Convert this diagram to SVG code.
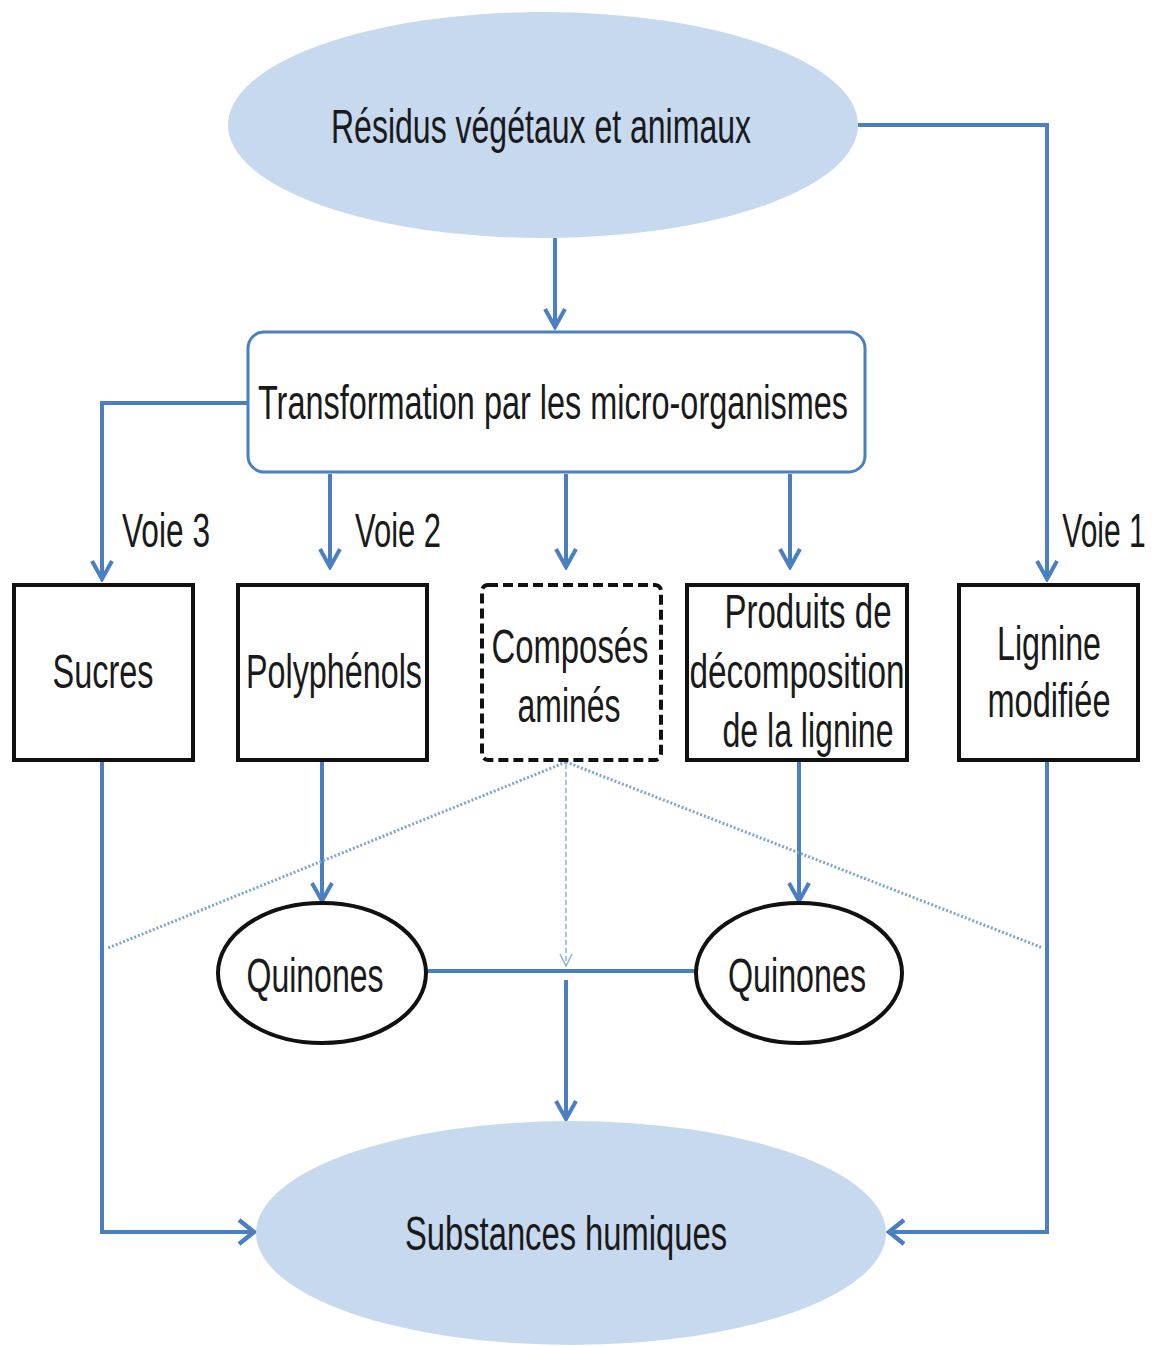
<svg xmlns="http://www.w3.org/2000/svg" width="1157" height="1347" viewBox="0 0 1157 1347">
<style>
.t{font-family:"Liberation Sans Narrow","Liberation Sans",Arial,sans-serif;font-size:48px;fill:#1a1a1a;text-anchor:middle}
.c{fill:none;stroke:#4a7fc1;stroke-width:4}
.box{fill:#fff;stroke:#111;stroke-width:4}
.big{fill:#c6d9ef}
</style>
<defs>
<marker id="a" viewBox="0 0 24 24" refX="21" refY="12" markerWidth="24" markerHeight="24" markerUnits="userSpaceOnUse" orient="auto">
<path d="M3,2 L21,12 L3,22" fill="none" stroke="#4a7fc1" stroke-width="4"/>
</marker>
<marker id="ah" viewBox="0 0 30 30" refX="27" refY="15" markerWidth="30" markerHeight="30" markerUnits="userSpaceOnUse" orient="auto">
<path d="M12,3 L27,15 L12,27" fill="none" stroke="#4a7fc1" stroke-width="4.5"/>
</marker>
<marker id="at" viewBox="0 0 16 16" refX="14" refY="8" markerWidth="16" markerHeight="16" markerUnits="userSpaceOnUse" orient="auto">
<path d="M2,2 L14,8 L2,14" fill="none" stroke="#8fb0d8" stroke-width="1.5"/>
</marker>
</defs>
<g id="connectors">
<path class="c" d="M555,238 V327" marker-end="url(#a)"/>
<path class="c" d="M858,125 H1047 V579" marker-end="url(#a)"/>
<path class="c" d="M248,403 H102 V579" marker-end="url(#a)"/>
<path class="c" d="M330,474 V567" marker-end="url(#a)"/>
<path class="c" d="M566,474 V567" marker-end="url(#a)"/>
<path class="c" d="M790,474 V567" marker-end="url(#a)"/>
<path class="c" d="M322,760 V901" marker-end="url(#a)"/>
<path class="c" d="M799,760 V901" marker-end="url(#a)"/>
<path class="c" d="M102,760 V1232 H254" marker-end="url(#ah)"/>
<path class="c" d="M1047,760 V1232 H889" marker-end="url(#ah)"/>
<path class="c" d="M427,971 H697"/>
<path class="c" d="M566,980 V1119" marker-end="url(#a)"/>
<path d="M566,764 V966" fill="none" stroke="#8fb0d8" stroke-width="1.5" stroke-dasharray="5,3" marker-end="url(#at)"/>
<path d="M566,762 L108,948 M566,762 L1043,948" fill="none" stroke="#7ea4d4" stroke-width="3" stroke-dasharray="2,2"/>
</g>
<g id="residus"><ellipse class="big" cx="543" cy="125" rx="315" ry="113"/><text class="t" x="541" y="143" textLength="420" lengthAdjust="spacingAndGlyphs">Résidus végétaux et animaux</text></g>
<g id="transformation"><rect x="248" y="332" width="617" height="140" rx="16" fill="#fff" stroke="#4a7fc1" stroke-width="3"/><text class="t" x="553" y="419" textLength="590" lengthAdjust="spacingAndGlyphs">Transformation par les micro-organismes</text></g>
<g id="voies">
<text class="t" x="166" y="547" textLength="88" lengthAdjust="spacingAndGlyphs">Voie 3</text>
<text class="t" x="398" y="547" textLength="86" lengthAdjust="spacingAndGlyphs">Voie 2</text>
<text class="t" transform="translate(1104,547) scale(0.625,1)" x="0" y="0">Voie 1</text>
</g>
<g id="sucres"><rect class="box" x="14" y="585" width="179" height="175"/><text class="t" x="103" y="688" textLength="101" lengthAdjust="spacingAndGlyphs">Sucres</text></g>
<g id="polyphenols"><rect class="box" x="238" y="585" width="189" height="175"/><text class="t" x="334" y="688" textLength="176" lengthAdjust="spacingAndGlyphs">Polyphénols</text></g>
<g id="composes"><rect x="482" y="585" width="179" height="175" rx="6" fill="#fff" stroke="#111" stroke-width="4" stroke-dasharray="10,5"/><text class="t" x="570" y="663" textLength="157" lengthAdjust="spacingAndGlyphs">Composés</text><text class="t" x="569" y="722" textLength="103" lengthAdjust="spacingAndGlyphs">aminés</text></g>
<g id="produits"><rect class="box" x="687" y="585" width="220" height="175"/><text class="t" x="808" y="628" textLength="167" lengthAdjust="spacingAndGlyphs">Produits de</text><text class="t" x="797" y="688" textLength="215" lengthAdjust="spacingAndGlyphs">décomposition</text><text class="t" x="808" y="747" textLength="171" lengthAdjust="spacingAndGlyphs">de la lignine</text></g>
<g id="lignine"><rect class="box" x="959" y="585" width="179" height="175"/><text class="t" x="1049" y="660" textLength="104" lengthAdjust="spacingAndGlyphs">Lignine</text><text class="t" transform="translate(1049,717) scale(0.678,1)" x="0" y="0">modifiée</text></g>
<g id="quinones1"><ellipse cx="322" cy="973" rx="104" ry="70" fill="#fff" stroke="#111" stroke-width="4"/><text class="t" x="315" y="992" textLength="137" lengthAdjust="spacingAndGlyphs">Quinones</text></g>
<g id="quinones2"><ellipse cx="799" cy="973" rx="103" ry="70" fill="#fff" stroke="#111" stroke-width="4"/><text class="t" x="797" y="992" textLength="138" lengthAdjust="spacingAndGlyphs">Quinones</text></g>
<g id="substances"><ellipse class="big" cx="571" cy="1233" rx="315" ry="112"/><text class="t" x="566" y="1250" textLength="322" lengthAdjust="spacingAndGlyphs">Substances humiques</text></g>
</svg>
